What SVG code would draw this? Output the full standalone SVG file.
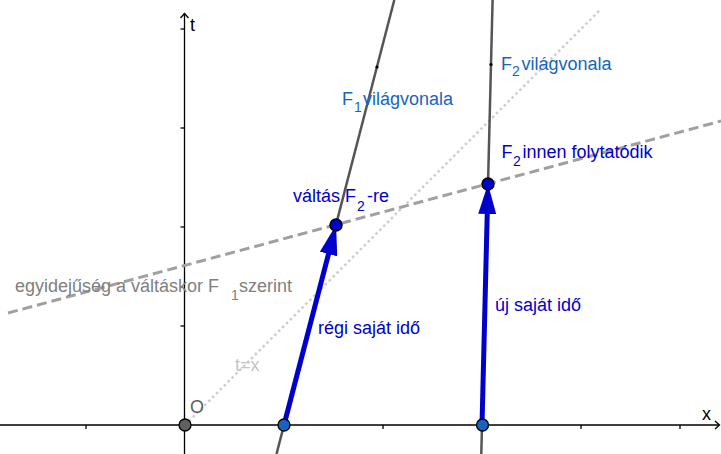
<svg xmlns="http://www.w3.org/2000/svg" width="721" height="454" viewBox="0 0 721 454">
<defs>
<style>
.axis{stroke:#000;stroke-width:1.3;fill:none}
.tick{stroke:#000;stroke-width:1.3}
.wl{stroke:#555;stroke-width:2.5;fill:none}
.vec{stroke:#0000cc;stroke-width:5;fill:none}
.txt{font-family:"Liberation Sans",Arial,sans-serif;font-size:18px}
.lb{fill:#1565c0}
.db{fill:#0000cc}
.sub{font-size:14px}
</style>
<marker id="head" viewBox="0 0 30 18" markerUnits="userSpaceOnUse" markerWidth="30" markerHeight="18" refX="15" refY="9" orient="auto">
<path d="M0,0 L30,9 L0,18 Z" fill="#0000cc"/>
</marker>
</defs>
<g id="axes">
<line class="axis" x1="0" y1="425" x2="719" y2="425"/>
<polyline class="axis" points="715,421 719.5,425 715,429"/>
<line class="axis" x1="184.5" y1="454" x2="184.5" y2="13"/>
<polyline class="axis" points="180.5,18 184.5,13.5 188.5,18"/>
<line class="tick" x1="86" y1="425" x2="86" y2="429"/>
<line class="tick" x1="284" y1="425" x2="284" y2="429"/>
<line class="tick" x1="383" y1="425" x2="383" y2="429"/>
<line class="tick" x1="482" y1="425" x2="482" y2="429"/>
<line class="tick" x1="581" y1="425" x2="581" y2="429"/>
<line class="tick" x1="680" y1="425" x2="680" y2="429"/>
<line class="tick" x1="180.5" y1="326" x2="184.5" y2="326"/>
<line class="tick" x1="180.5" y1="227" x2="184.5" y2="227"/>
<line class="tick" x1="180.5" y1="128" x2="184.5" y2="128"/>
<line class="tick" x1="180.5" y1="29" x2="184.5" y2="29"/>
<text class="txt" x="190" y="31" font-size="17" fill="#000">t</text>
<text class="txt" x="702" y="420" font-size="17" fill="#000">x</text>
</g>
<g id="connectors">
<line x1="185" y1="425" x2="600" y2="10" stroke="#cdcdcd" stroke-width="2.5" stroke-dasharray="2.5 3"/>
<line x1="8" y1="313" x2="721" y2="121" stroke="#a0a0a0" stroke-width="3" stroke-dasharray="10 5"/>
<line id="F1-worldline" class="wl" x1="276.5" y1="454" x2="394.3" y2="0"/>
<line id="F2-worldline" class="wl" x1="481.3" y1="454" x2="492.6" y2="0"/>
<circle cx="377" cy="67" r="1.6" fill="#000"/>
<circle cx="491" cy="64.5" r="1.6" fill="#000"/>
<line class="vec" x1="284" y1="425" x2="332.3" y2="239.5" marker-end="url(#head)"/>
<line class="vec" x1="482" y1="425" x2="487.6" y2="199" marker-end="url(#head)"/>
</g>
<g id="O">
<circle cx="185" cy="425" r="6" fill="#606060" stroke="#000" stroke-width="1.3"/>
<text class="txt" x="190" y="413" font-size="16" fill="#606060">O</text>
</g>
<g id="A1">
<circle cx="284" cy="425" r="6" fill="#1565c0" stroke="#000" stroke-width="1.3"/>
</g>
<g id="A2">
<circle cx="482.5" cy="425" r="6" fill="#1565c0" stroke="#000" stroke-width="1.3"/>
</g>
<g id="valtas">
<circle cx="336" cy="225" r="6" fill="#0000cc" stroke="#000" stroke-width="1.5"/>
<text class="txt db" y="201.5"><tspan x="293">váltás F</tspan><tspan class="sub" x="357" y="210.5">2</tspan><tspan x="367" y="201.5">-re</tspan></text>
</g>
<g id="folytatodik">
<circle cx="488" cy="184" r="6" fill="#0000cc" stroke="#000" stroke-width="1.5"/>
<text class="txt db" y="157.5"><tspan x="501.5">F</tspan><tspan class="sub" x="513" y="165.5">2</tspan><tspan x="522.5" y="157.5">innen folytatódik</tspan></text>
</g>
<g id="F1-label">
<text class="txt lb" y="105"><tspan x="342">F</tspan><tspan class="sub" x="354" y="112">1</tspan><tspan x="363" y="105">világvonala</tspan></text>
</g>
<g id="F2-label">
<text class="txt lb" y="69.5"><tspan x="501">F</tspan><tspan class="sub" x="512" y="76">2</tspan><tspan x="521.5" y="69.5">világvonala</tspan></text>
</g>
<g id="egyidejuseg">
<text class="txt" fill="#808080" y="291.5"><tspan x="15">egyidejűség a váltáskor F</tspan><tspan class="sub" x="231" y="300">1</tspan><tspan x="239" y="291.5">szerint</tspan></text>
</g>
<g id="regi">
<text class="txt db" x="318" y="334">régi saját idő</text>
</g>
<g id="uj">
<text class="txt db" x="495" y="310.5">új saját idő</text>
</g>
<g id="tx">
<text class="txt" x="235" y="371" font-size="17" fill="#c4c4c4">t=x</text>
</g>
</svg>
